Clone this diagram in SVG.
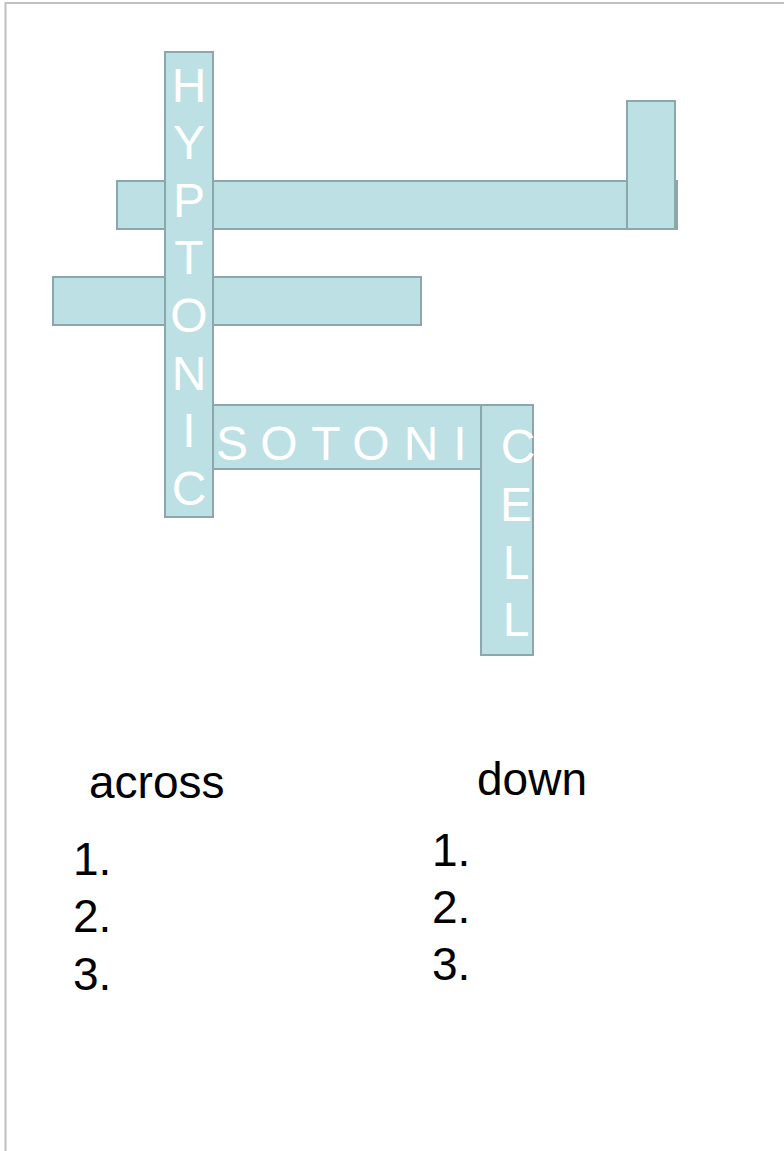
<svg xmlns="http://www.w3.org/2000/svg" width="784" height="1151" viewBox="0 0 784 1151">
<style>
.b{fill:#bce0e3;stroke:#8aa8a9;stroke-width:2}
.l{fill:#ffffff;font-family:"Liberation Sans",Arial,sans-serif;font-size:48px;text-anchor:middle}
.t{fill:#000000;font-family:"Liberation Sans",Arial,sans-serif;font-size:46px}
</style>
<rect x="0" y="0" width="784" height="1151" fill="#ffffff"/>
<path d="M5.5,1151 V3 H784" fill="none" stroke="#c0c0c0" stroke-width="2"/>
<g id="bar-top">
<rect class="b" x="117" y="181" width="560" height="48"/>
</g>
<g id="bar-right">
<rect class="b" x="627" y="101" width="48" height="128"/>
</g>
<g id="bar-mid">
<rect class="b" x="53" y="277" width="368" height="48"/>
</g>
<g id="isotonic">
<rect class="b" x="165" y="405" width="368" height="64"/>
<text class="l" x="232" y="460">S</text>
<text class="l" x="279" y="460">O</text>
<text class="l" x="326" y="460">T</text>
<text class="l" x="371" y="460">O</text>
<text class="l" x="421" y="460">N</text>
<text class="l" x="460" y="460">I</text>
</g>
<g id="hyptonic">
<rect class="b" x="165" y="52" width="48" height="465"/>
<text class="l" x="189" y="102">H</text>
<text class="l" x="189" y="159">Y</text>
<text class="l" x="189" y="217">P</text>
<text class="l" x="189" y="274">T</text>
<text class="l" x="189" y="332">O</text>
<text class="l" x="189" y="390">N</text>
<text class="l" x="189" y="447">I</text>
<text class="l" x="189" y="505">C</text>
</g>
<g id="cell">
<rect class="b" x="481" y="405" width="52" height="250"/>
<text class="l" x="518" y="463">C</text>
<text class="l" x="516" y="521">E</text>
<text class="l" x="516" y="579">L</text>
<text class="l" x="516" y="636">L</text>
</g>
<g id="across">
<text class="t" x="89" y="798">across</text>
<text class="t" x="73" y="875">1.</text>
<text class="t" x="73" y="932">2.</text>
<text class="t" x="73" y="990">3.</text>
</g>
<g id="down">
<text class="t" x="477" y="795">down</text>
<text class="t" x="432" y="866">1.</text>
<text class="t" x="432" y="923">2.</text>
<text class="t" x="432" y="980">3.</text>
</g>
</svg>
